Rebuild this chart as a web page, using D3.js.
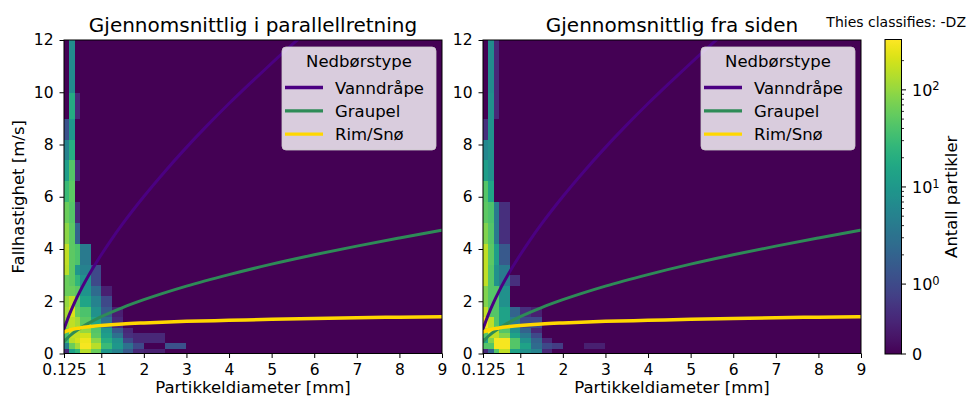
<!DOCTYPE html>
<html><head><meta charset="utf-8">
<script src="https://cdn.jsdelivr.net/npm/d3@7"></script>
<style>
body{margin:0;background:#fff}
svg{display:block}
text{font-family:"DejaVu Sans",sans-serif}
</style>
</head><body>
<svg id="chart" width="968" height="401"></svg>
<script>
// ---------------- DATA ----------------
const diameterEdges = [0.125,0.25,0.375,0.5,0.75,1.0,1.25,1.5,1.75,2.0,2.5,3.0,3.5,4.0,4.5,5.0,5.5,6.0,6.5,7.0,7.5,8.0,9.0];
const velocityEdges = [0,0.2,0.4,0.6,0.8,1.0,1.4,1.8,2.2,2.6,3.0,3.4,4.2,5.0,5.8,6.6,7.4,8.2,9.0,10.0,20.0];

// mean particle counts, one row per velocity class (bottom to top), one column per diameter class
const countsParallel = [
  [0.5, 14, 25, 150, 60, 10, 5, 1.5, 0.5, 0.4, 0, 0],
  [5, 60, 120, 300, 150, 30, 10, 3, 1, 0, 1.2, 0],
  [30, 150, 200, 270, 90, 20, 8, 1, 0.5, 0.5, 0, 0],
  [40, 170, 170, 200, 50, 12, 3, 0.6, 0.5, 0.5, 0, 0],
  [60, 170, 150, 100, 45, 10, 1.5, 0.5],
  [100, 160, 120, 50, 15, 3, 0.5],
  [120, 220, 60, 40, 8, 1.5, 0.4],
  [100, 160, 50, 15, 5, 1],
  [60, 60, 50, 9, 2.5, 0.4],
  [60, 50, 25, 8, 1],
  [150, 50, 10, 5, 1],
  [160, 50, 40, 4],
  [90, 50, 2],
  [60, 45, 0.5],
  [30, 50, 0],
  [12, 45, 0.5],
  [5, 20, 0],
  [1.2, 10, 0],
  [0, 18, 0.5],
  [0, 7, 0]
];
const countsSide = [
  [0.5, 2, 45, 160, 14, 8, 5, 0.5],
  [45, 45, 300, 300, 45, 14, 2.5, 1, 0.8, 0, 0.4],
  [14, 80, 300, 300, 45, 8, 2, 0.5],
  [45, 160, 160, 80, 14, 4, 1],
  [160, 300, 160, 45, 8, 2, 0.5],
  [300, 160, 45, 14, 4, 1, 1],
  [160, 45, 45, 14, 2, 0.6, 0.4],
  [80, 45, 45, 8],
  [80, 45, 45, 8],
  [160, 45, 8, 4, 0.6],
  [160, 45, 8, 4],
  [160, 50, 12, 1.5],
  [80, 45, 4, 0.6],
  [50, 40, 4, 0.6],
  [45, 15, 0],
  [12, 8, 0],
  [6, 8, 0],
  [0.6, 8, 0],
  [0, 8, 0.5],
  [0, 7, 0.5]
];

// fall speed curves (m/s)
const vanndrapeDiam  = [0.125,0.25,0.375,0.5,0.75,1,1.25,1.5,2,2.5,3,3.5,4,4.5,5,5.5,6];
const vanndrapeSpeed = [0.94,1.49,1.96,2.38,3.12,3.78,4.39,4.96,6.01,6.98,7.89,8.75,9.57,10.35,11.11,11.85,12.56];
const graupelDiam    = [0.125,0.25,0.5,0.75,1,1.5,2,3,4,5,6,7,8,9];
const graupelSpeed   = [0.45,0.66,0.96,1.20,1.41,1.76,2.06,2.58,3.02,3.42,3.78,4.11,4.42,4.72];
const rimDiam        = [0.125,0.25,0.5,0.75,1,1.5,2,3,4,5,6,7,8,9];
const rimSpeed       = [0.82,0.90,0.98,1.03,1.07,1.13,1.17,1.23,1.27,1.31,1.34,1.37,1.39,1.41];

const seriesNames  = ["Vanndråpe","Graupel","Rim/Snø"];
const seriesColors = ["#4b0082","#2e8b57","#ffd700"];
const legendTitle  = "Nedbørstype";
const panelTitles  = ["Gjennomsnittlig i parallellretning","Gjennomsnittlig fra siden"];
const cornerText   = "Thies classifies: -DZ";
const xLabel = "Partikkeldiameter [mm]";
const yLabel = "Fallhastighet [m/s]";
const cbarLabel = "Antall partikler";

const xTicks = [0.125,1,2,3,4,5,6,7,8,9];
const xTickLabels = ["0.125","1","2","3","4","5","6","7","8","9"];
const yTicks = [0,2,4,6,8,10,12];
const cbarMajorTicks = [0,1,10,100];
const cbarMajorExp = [null,"0","1","2"];
const cbarMinorTicks = [2,3,4,5,6,7,8,9,20,30,40,50,60,70,80,90,200];
const colorMax = 330;
const linDecades = 0.72;

// ---------------- DRAW ----------------
const svg = d3.select("#chart");
const FONT = "DejaVu Sans";
const plotTop = 40, plotBottom = 353.5, plotW = 378;

const norm = v => v <= 1 ? v * linDecades : linDecades + Math.log10(v);
const color = d3.scaleSequential(d3.interpolateViridis).domain([0, norm(colorMax)]);

const series = [
  {d: vanndrapeDiam, v: vanndrapeSpeed, w: 3},
  {d: graupelDiam, v: graupelSpeed, w: 3},
  {d: rimDiam, v: rimSpeed, w: 3.5}
];

const panels = [
  {x0: 64, counts: countsParallel, title: panelTitles[0], ylab: true},
  {x0: 483, counts: countsSide, title: panelTitles[1], ylab: false}
];

panels.forEach((p, pi) => {
  const x = d3.scaleLinear().domain([0.125, 9]).range([p.x0, p.x0 + plotW]);
  const y = d3.scaleLinear().domain([0, 12]).range([plotBottom, plotTop]);
  const clipId = "clip" + pi;
  svg.append("clipPath").attr("id", clipId).append("rect")
    .attr("x", p.x0).attr("y", plotTop).attr("width", plotW).attr("height", plotBottom - plotTop);
  const g = svg.append("g");
  const cells = [];
  for (let i = 0; i < velocityEdges.length - 1; i++) {
    for (let j = 0; j < diameterEdges.length - 1; j++) {
      const row = p.counts[i] || [];
      cells.push({i, j, val: row[j] || 0});
    }
  }
  g.append("g").attr("clip-path", `url(#${clipId})`)
    .selectAll("rect").data(cells).join("rect")
    .attr("x", c => x(diameterEdges[c.j]))
    .attr("width", c => x(diameterEdges[c.j + 1]) - x(diameterEdges[c.j]) + 0.3)
    .attr("y", c => y(velocityEdges[c.i + 1]))
    .attr("height", c => y(velocityEdges[c.i]) - y(velocityEdges[c.i + 1]) + 0.3)
    .attr("fill", c => color(norm(c.val)))
    .attr("shape-rendering", "crispEdges");

  const line = d3.line().x(d => x(d[0])).y(d => y(d[1])).curve(d3.curveMonotoneX);
  const lg = g.append("g").attr("clip-path", `url(#${clipId})`);
  series.forEach((s, si) => {
    lg.append("path").attr("d", line(s.d.map((dd, k) => [dd, s.v[k]])))
      .attr("fill", "none").attr("stroke", seriesColors[si]).attr("stroke-width", s.w)
      .attr("stroke-linecap", "round");
  });

  // frame
  g.append("rect").attr("x", p.x0).attr("y", plotTop).attr("width", plotW).attr("height", plotBottom - plotTop)
    .attr("fill", "none").attr("stroke", "#000").attr("stroke-width", 1);

  // axes
  const gx = g.append("g").attr("transform", `translate(0,${plotBottom})`)
    .call(d3.axisBottom(x).tickValues(xTicks).tickFormat((d, i) => xTickLabels[i]).tickSize(4.5).tickPadding(6));
  gx.attr("font-size", 15.5).attr("font-family", FONT);
  gx.select(".domain").remove();
  gx.selectAll("line").attr("stroke", "#000");
  gx.selectAll("text").attr("fill", "#000");

  const gy = g.append("g").attr("transform", `translate(${p.x0},0)`)
    .call(d3.axisLeft(y).tickValues(yTicks).tickSize(4.5).tickPadding(6));
  gy.attr("font-size", 15.5).attr("font-family", FONT);
  gy.select(".domain").remove();
  gy.selectAll("line").attr("stroke", "#000");
  gy.selectAll("text").attr("fill", "#000");

  // title
  g.append("text").attr("x", p.x0 + plotW / 2).attr("y", 32).attr("text-anchor", "middle")
    .attr("font-size", 20).attr("fill", "#000").text(p.title);
  // x label
  g.append("text").attr("x", p.x0 + plotW / 2).attr("y", 393).attr("text-anchor", "middle")
    .attr("font-size", 16.5).attr("fill", "#000").text(xLabel);
  if (p.ylab) {
    g.append("text").attr("transform", `translate(23.5,${(plotTop + plotBottom) / 2}) rotate(-90)`)
      .attr("text-anchor", "middle").attr("font-size", 16.5).attr("fill", "#000").text(yLabel);
  }

  // legend
  const L = g.append("g").attr("transform", `translate(${p.x0 + 218},47)`);
  L.append("rect").attr("width", 154).attr("height", 103).attr("rx", 4).attr("ry", 4)
    .attr("fill", "rgba(255,255,255,0.8)").attr("stroke", "rgba(204,204,204,0.8)").attr("stroke-width", 1);
  L.append("text").attr("x", 77).attr("y", 19.5).attr("text-anchor", "middle")
    .attr("font-size", 16.5).attr("fill", "#000").text(legendTitle);
  seriesNames.forEach((n, k) => {
    const yy = 40.5 + k * 23.3;
    L.append("line").attr("x1", 3).attr("x2", 41).attr("y1", yy).attr("y2", yy)
      .attr("stroke", seriesColors[k]).attr("stroke-width", 3.3);
    L.append("text").attr("x", 53).attr("y", yy + 6).attr("font-size", 16.5).attr("fill", "#000").text(n);
  });
});

// colorbar
const cbX = 885, cbW = 16.5, cbTop = 39.5, cbBot = 354;
const cbY = d3.scaleLinear().domain([0, norm(colorMax)]).range([cbBot, cbTop]);
const grad = svg.append("defs").append("linearGradient").attr("id", "cbgrad")
  .attr("x1", 0).attr("y1", 1).attr("x2", 0).attr("y2", 0);
d3.range(0, 1.0001, 0.02).forEach(t => {
  grad.append("stop").attr("offset", t).attr("stop-color", color(t * norm(colorMax)));
});
svg.append("rect").attr("x", cbX).attr("y", cbTop).attr("width", cbW).attr("height", cbBot - cbTop)
  .attr("fill", "url(#cbgrad)").attr("stroke", "#000").attr("stroke-width", 1);
const cb = svg.append("g");
cbarMinorTicks.forEach(v => {
  cb.append("line").attr("x1", cbX + cbW).attr("x2", cbX + cbW + 2.5)
    .attr("y1", cbY(norm(v))).attr("y2", cbY(norm(v))).attr("stroke", "#000").attr("stroke-width", 0.8);
});
cbarMajorTicks.forEach((v, k) => {
  const yy = cbY(norm(v));
  cb.append("line").attr("x1", cbX + cbW).attr("x2", cbX + cbW + 4.5)
    .attr("y1", yy).attr("y2", yy).attr("stroke", "#000").attr("stroke-width", 1);
  const t = cb.append("text").attr("x", cbX + cbW + 10.5).attr("y", yy).attr("dy", "0.36em")
    .attr("font-size", 16).attr("fill", "#000");
  if (cbarMajorExp[k] === null) {
    t.text(String(v));
  } else {
    t.append("tspan").text("10");
    t.append("tspan").attr("dy", "-0.45em").attr("font-size", 11.5).text(cbarMajorExp[k]);
  }
});
svg.append("text").attr("transform", `translate(957,${(cbTop + cbBot) / 2}) rotate(-90)`)
  .attr("text-anchor", "middle").attr("font-size", 16.5).attr("fill", "#000").text(cbarLabel);

svg.append("text").attr("x", 966).attr("y", 27).attr("text-anchor", "end")
  .attr("font-size", 14).attr("fill", "#000").text(cornerText);
</script>
</body></html>
